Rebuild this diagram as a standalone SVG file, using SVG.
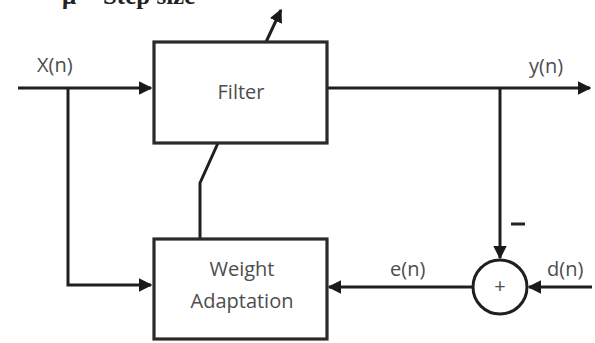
<svg xmlns="http://www.w3.org/2000/svg" width="595" height="343" viewBox="0 0 595 343">
<defs>
<marker id="ah" viewBox="0 0 10 10" refX="9" refY="5" markerWidth="4.5" markerHeight="4.5" orient="auto" markerUnits="strokeWidth">
<path d="M0,0 L10,5 L0,10 z" fill="#1a1a1a"/>
</marker>
</defs>
<style>
.box{fill:#fff;stroke:#2a2a2a;stroke-width:3.2}
.ln{fill:none;stroke:#1f1f1f;stroke-width:3}
.t{font-family:"Open Sans","Noto Sans",sans-serif;font-size:20px;fill:#4d4d4d}
.s{font-family:"Liberation Serif",serif;font-size:25px;font-weight:bold;fill:#222}
</style>
<rect width="595" height="343" fill="#fff"/>
<text class="s" x="62" y="4">μ = Step size</text>
<g id="connectors">
<path class="ln" d="M18,88 H151" marker-end="url(#ah)"/>
<path class="ln" d="M68,88 V285 H151" marker-end="url(#ah)"/>
<path class="ln" d="M266,42 L281,10" marker-end="url(#ah)"/>
<path class="ln" d="M200,239 V183 L218,143"/>
<path class="ln" d="M327,88 H590" marker-end="url(#ah)"/>
<path class="ln" d="M500,88 V258" marker-end="url(#ah)"/>
<path class="ln" d="M473,287 H329" marker-end="url(#ah)"/>
<path class="ln" d="M592,287 H529" marker-end="url(#ah)"/>
</g>
<g id="filter">
<rect class="box" x="154" y="42" width="173" height="101"/>
<text class="t" x="241" y="99" text-anchor="middle" font-size="21">Filter</text>
</g>
<g id="weight">
<rect class="box" x="154" y="239" width="173" height="100"/>
<text class="t" x="242" y="276" text-anchor="middle">Weight</text>
<text class="t" x="242" y="308" text-anchor="middle">Adaptation</text>
</g>
<g id="sum">
<circle cx="500" cy="287" r="27" fill="#fff" stroke="#1f1f1f" stroke-width="3"/>
<text class="t" x="500" y="293" text-anchor="middle" font-size="16">+</text>
</g>
<g id="labels">
<text class="t" x="37" y="72">X(n)</text>
<text class="t" x="529" y="73">y(n)</text>
<text class="t" x="390" y="276">e(n)</text>
<text class="t" x="547" y="276">d(n)</text>
<path d="M511,224 H525" stroke="#222" stroke-width="3"/>
</g>
</svg>
